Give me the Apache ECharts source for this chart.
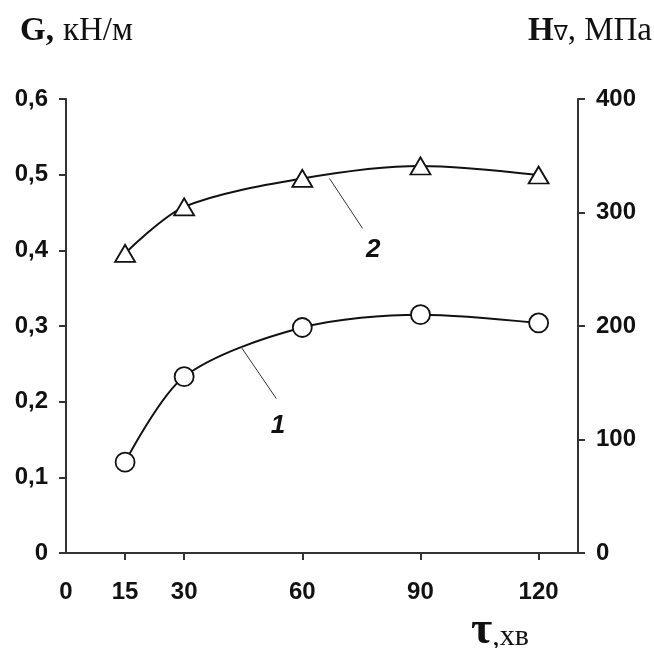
<!DOCTYPE html>
<html>
<head>
<meta charset="utf-8">
<script src="https://cdn.jsdelivr.net/npm/echarts@6/dist/echarts.min.js"></script>
<style>
  html, body { margin: 0; padding: 0; background: #fff; }
  #chart { width: 654px; height: 648px; }
</style>
</head>
<body>
<div id="chart"></div>
<script>
  // time, min
  var times = [15, 30, 60, 90, 120];
  // curve 1 - G, kN/m (left axis)
  var gValues = [0.120, 0.233, 0.298, 0.315, 0.304];
  // curve 2 - Hv, MPa (right axis)
  var hvValues = [264, 305, 330, 341, 333];

  var xLabelValues = [0, 15, 30, 60, 90, 120];
  var xTickValues = [15, 30, 60, 90, 120];

  // leader lines for the curve numbers
  var leader1 = [[44.5, 0.272], [53.4, 0.204]];
  var label1 = [53.8, 0.168];
  var leader2 = [[66.9, 330], [75.3, 286]];
  var label2 = [78.0, 267];

  var axisColor = '#333';
  var labelFont = {
    fontFamily: 'Liberation Sans, Arial, sans-serif',
    fontWeight: 'bold',
    fontSize: 24,
    color: '#111'
  };
  var serif = 'Liberation Serif, Times New Roman, serif';

  function pairs(xs, ys) {
    var out = [];
    for (var i = 0; i < xs.length; i++) out.push([xs[i], ys[i]]);
    return out;
  }

  var chart = echarts.init(document.getElementById('chart'));
  chart.setOption({
    animation: false,
    backgroundColor: '#fff',
    grid: { left: 66, right: 76, top: 99, bottom: 95 },
    xAxis: {
      type: 'value',
      min: 0,
      max: 130,
      splitLine: { show: false },
      axisLine: { show: true, lineStyle: { color: axisColor, width: 2 } },
      axisTick: {
        show: true, length: 7, inside: false,
        customValues: xTickValues,
        lineStyle: { color: axisColor, width: 2 }
      },
      axisLabel: Object.assign({
        margin: 27,
        customValues: xLabelValues
      }, labelFont)
    },
    yAxis: [
      {
        type: 'value',
        position: 'left',
        min: 0,
        max: 0.6,
        interval: 0.1,
        splitLine: { show: false },
        axisLine: { show: true, lineStyle: { color: axisColor, width: 2 } },
        axisTick: { show: true, length: 7, lineStyle: { color: axisColor, width: 2 } },
        axisLabel: Object.assign({
          margin: 18,
          padding: [0, 0, 8, 0],
          formatter: function (v) { return v === 0 ? '0' : v.toFixed(1).replace('.', ','); }
        }, labelFont)
      },
      {
        type: 'value',
        position: 'right',
        min: 0,
        max: 400,
        interval: 100,
        splitLine: { show: false },
        axisLine: { show: true, lineStyle: { color: axisColor, width: 2 } },
        axisTick: { show: true, length: 7, lineStyle: { color: axisColor, width: 2 } },
        axisLabel: Object.assign({
          margin: 18,
          padding: [0, 0, 4, 0]
        }, labelFont)
      }
    ],
    graphic: [
      {
        type: 'text', left: 20, top: 15,
        style: {
          rich: {
            b: { fontFamily: serif, fontWeight: 'bold', fontSize: 33, fill: '#111' },
            r: { fontFamily: serif, fontSize: 33, fill: '#111', padding: [0, 0, 0, 9] }
          },
          text: '{b|G,}{r|кН/м}'
        }
      },
      {
        type: 'text', right: 2, top: 15,
        style: {
          rich: {
            b: { fontFamily: serif, fontWeight: 'bold', fontSize: 33, fill: '#111' },
            s: { fontFamily: 'DejaVu Sans, sans-serif', fontSize: 21, fill: '#111', padding: [6, 0, 0, 0] },
            r: { fontFamily: serif, fontSize: 33, fill: '#111' }
          },
          text: '{b|H}{s|∇}{r|, МПа}'
        }
      },
      {
        type: 'text', left: 471, top: 608,
        style: {
          rich: {
            b: { fontFamily: serif, fontWeight: 'bold', fontSize: 46, fill: '#111' },
            r: { fontFamily: serif, fontSize: 30, fill: '#111', padding: [12, 0, 0, 0] }
          },
          text: '{b|τ}{r|,хв}'
        }
      }
    ],
    series: [
      {
        name: 'G',
        type: 'line',
        yAxisIndex: 0,
        smooth: 0.3,
        data: pairs(times, gValues),
        symbol: 'circle',
        symbolSize: 19,
        lineStyle: { color: '#111', width: 2 },
        itemStyle: { color: '#fff', borderColor: '#111', borderWidth: 1.8 },
        markLine: {
          silent: true,
          symbol: 'none',
          label: { show: false },
          lineStyle: { color: '#333', width: 1, type: 'solid' },
          data: [[{ coord: leader1[0] }, { coord: leader1[1] }]]
        },
        markPoint: {
          silent: true,
          symbol: 'circle',
          symbolSize: 1,
          itemStyle: { color: 'rgba(0,0,0,0)' },
          label: {
            show: true, position: 'inside', formatter: '1',
            fontFamily: 'Liberation Sans, Arial, sans-serif',
            fontStyle: 'italic', fontWeight: 'bold', fontSize: 26, color: '#111'
          },
          data: [{ coord: label1 }]
        }
      },
      {
        name: 'Hv',
        type: 'line',
        yAxisIndex: 1,
        smooth: 0.3,
        data: pairs(times, hvValues),
        symbol: 'triangle',
        symbolSize: [20, 17],
        lineStyle: { color: '#111', width: 2 },
        itemStyle: { color: '#fff', borderColor: '#111', borderWidth: 1.8 },
        markLine: {
          silent: true,
          symbol: 'none',
          label: { show: false },
          lineStyle: { color: '#333', width: 1, type: 'solid' },
          data: [[{ coord: leader2[0] }, { coord: leader2[1] }]]
        },
        markPoint: {
          silent: true,
          symbol: 'circle',
          symbolSize: 1,
          itemStyle: { color: 'rgba(0,0,0,0)' },
          label: {
            show: true, position: 'inside', formatter: '2',
            fontFamily: 'Liberation Sans, Arial, sans-serif',
            fontStyle: 'italic', fontWeight: 'bold', fontSize: 26, color: '#111'
          },
          data: [{ coord: label2 }]
        }
      }
    ]
  });
</script>
</body>
</html>
